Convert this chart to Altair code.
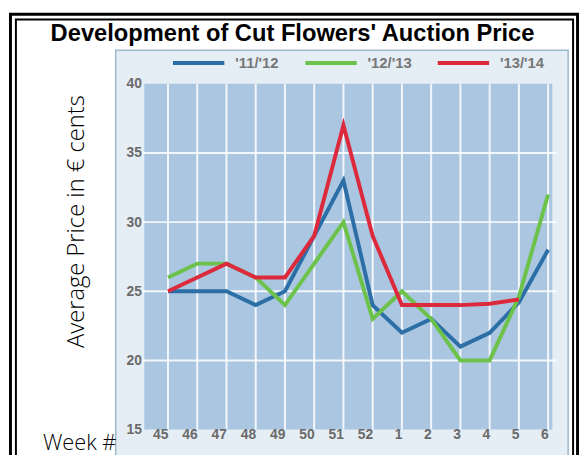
import altair as alt
import pandas as pd

weeks = ["45", "46", "47", "48", "49", "50", "51", "52", "1", "2", "3", "4", "5", "6"]
s1112 = [25, 25, 25, 24, 25, 29, 33, 24, 22, 23, 21, 22, 24.2, 28]
s1213 = [26, 27, 27, 26, 24, 27, 30, 23, 25, 23, 20, 20, 24.6, 32]
s1314 = [25, 26, 27, 26, 26, 29, 37, 29, 24, 24, 24, 24.1, 24.4, None]
seasons = ["'11/'12", "'12/'13", "'13/'14"]
colors = ["#2c6ea6", "#6cc24a", "#dc2a3c"]
grid_values = [20, 25, 30, 35]
y_ticks = [15, 20, 25, 30, 35, 40]

rows = []
for name, vals in zip(seasons, [s1112, s1213, s1314]):
    for w, v in zip(weeks, vals):
        if v is not None:
            rows.append({"week": w, "price": v, "season": name})
df = pd.DataFrame(rows)
wk_df = pd.DataFrame({"week": weeks})
grid_df = pd.DataFrame({"v": grid_values})
one = pd.DataFrame({"a": [0]})

W, H = 414, 350
xscale = alt.Scale(type="point", padding=0.493, align=0.82)
yscale = alt.Scale(domain=[15, 40], nice=False)

# decorative frame and panel
frame_outer = alt.Chart(one).mark_rect(fill=None, stroke="black", strokeWidth=3).encode(
    x=alt.value(-135.5), x2=alt.value(438.5), y=alt.value(-70.5), y2=alt.value(420))
frame_inner = alt.Chart(one).mark_rect(fill=None, stroke="black", strokeWidth=2).encode(
    x=alt.value(-130), x2=alt.value(434), y=alt.value(-65), y2=alt.value(420))
panel = alt.Chart(one).mark_rect(fill="#e5edf5", stroke="#9db7cb", strokeWidth=1.5).encode(
    x=alt.value(-29), x2=alt.value(429), y=alt.value(-34), y2=alt.value(420))
plotbg = alt.Chart(one).mark_rect(fill="#abc6e0").encode(
    x=alt.value(0), x2=alt.value(413), y=alt.value(0), y2=alt.value(H))

vgrid = alt.Chart(wk_df).mark_rule(color="white", strokeWidth=2, opacity=0.85).encode(
    x=alt.X("week:O", sort=weeks, scale=xscale),
    y=alt.value(0), y2=alt.value(H))
hgrid = alt.Chart(grid_df).mark_rule(color="white", strokeWidth=2, opacity=0.85).encode(
    y=alt.Y("v:Q", scale=yscale),
    x=alt.value(-3), x2=alt.value(417))

lines = alt.Chart(df).mark_line(strokeWidth=4).encode(
    x=alt.X("week:O", sort=weeks, scale=xscale,
            axis=alt.Axis(title="Week #", labelAngle=0, domain=False, ticks=False, zindex=1,
                          labelFont="Liberation Sans", labelFontSize=14, labelFontWeight="bold",
                          labelColor="#6a6a6a", labelPadding=5,
                          titleFont="Open Sans", titleFontWeight=300, titleFontSize=22,
                          titleColor="black", titleX=-66, titleY=20,
                          titleBaseline="alphabetic", titleAlign="center")),
    y=alt.Y("price:Q", scale=yscale,
            axis=alt.Axis(values=y_ticks, title="Average Price in € cents", domain=False,
                          ticks=False, grid=False, zindex=1,
                          labelFont="Liberation Sans", labelFontSize=14, labelFontWeight="bold",
                          labelColor="#6a6a6a", labelPadding=3,
                          titleFont="Open Sans", titleFontWeight=300, titleFontSize=24,
                          titleColor="black", titleX=-62, titleY=139,
                          titleBaseline="alphabetic", titleAlign="center", titleAngle=-90)),
    color=alt.Color("season:N", scale=alt.Scale(domain=seasons, range=colors),
                    legend=alt.Legend(title=None, orient="none", direction="horizontal",
                                      legendX=27, legendY=-49, symbolType="stroke",
                                      symbolSize=2704, symbolStrokeWidth=4,
                                      labelFont="Liberation Sans", labelFontSize=15,
                                      labelFontWeight="bold",
                                      labelColor="#777777", labelOffset=9,
                                      columnPadding=18, gridAlign="all", padding=0)),
    order=alt.value(0),
)

chart = alt.layer(frame_outer, frame_inner, panel, plotbg, vgrid, hgrid, lines).properties(
    width=W, height=H,
    title=alt.TitleParams("Development of Cut Flowers' Auction Price", font="Liberation Sans",
                          fontSize=24, fontWeight="bold", color="black", anchor="middle",
                          frame="group", dx=-57, dy=9, offset=-44, baseline="alphabetic"),
    autosize=alt.AutoSizeParams(type="none"),
    padding={"left": 138, "top": 74, "right": 27, "bottom": 23},
).configure_view(stroke=None).configure(background="white")

chart.save("out.html", embed_options={"renderer": "svg", "actions": False})
